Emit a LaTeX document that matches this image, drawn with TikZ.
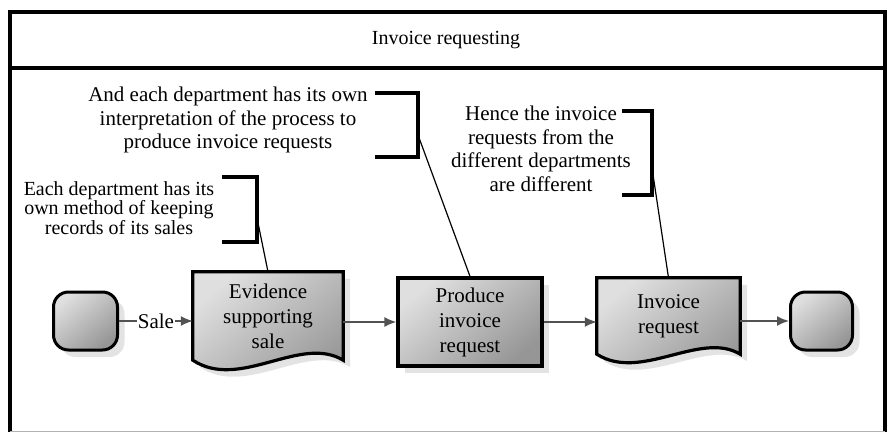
\documentclass[tikz,border=0pt]{standalone}
\usepackage{fontspec}
\setmainfont{Liberation Serif}
\usetikzlibrary{arrows.meta,shadows,backgrounds}

\begin{document}
\begin{tikzpicture}[x=1pt,y=-1pt,
    flow/.style={draw=black!68, line width=1.6pt, -{Latex[length=12pt,width=10pt]}}]
    \tikzstyle{frame line}=[line width=3.4pt]
    \tikzstyle{body text}=[font=\fontsize{21}{25}\selectfont, align=center]
    \tikzstyle{note text}=[font=\fontsize{21}{23.5}\selectfont, align=center]
    \tikzstyle{shaded}=[top color=gray!25, bottom color=gray!82, shading angle=40]
    \tikzstyle{soft shadow}=[drop shadow={shadow xshift=7pt, shadow yshift=-7pt, fill=gray!22, opacity=1}]
    \tikzstyle{terminal}=[draw, line width=3pt, rounded corners=15pt, shaded, soft shadow, minimum width=64pt, minimum height=58pt, inner sep=0]
    \tikzstyle{process}=[draw, line width=3.2pt, shaded, soft shadow, body text, inner sep=0]
    \tikzstyle{doc box}=[body text, inner sep=0]
    \tikzstyle{doc shape}=[draw, line width=3.2pt, shaded, soft shadow]
    \tikzstyle{bracket}=[line width=4pt]
    \tikzstyle{callout}=[line width=1.2pt]

    \useasboundingbox (0,0) rectangle (890,433);

    % frame and heading
    \draw[frame line] (10,432) -- (10,12) -- (885,12) -- (885,432);
    \draw[gray!60, line width=1pt] (10,431.5) -- (885,431.5);
    \draw[frame line] (10,68) -- (885,68);
    \node (title) at (446,40) [font=\fontsize{20}{24}\selectfont] {Invoice requesting};

    % process row
    \node (st) [terminal] at (85.5,321) {};
    \node (ev) [doc box, minimum width=150pt, minimum height=88pt] at (268,316) {Evidence\\supporting\\sale};
    \node (pr) [process, minimum width=144pt, minimum height=88pt] at (470,322) {Produce\\invoice\\request};
    \node (ir) [doc box, minimum width=143pt, minimum height=76pt] at (668.5,316) {Invoice\\request};
    \node (en) [terminal, minimum width=62pt] at (821.5,321) {};

    \begin{pgfonlayer}{background}
        \path[doc shape] (ev.north west) -- (ev.north east) -- (ev.south east)
            .. controls +(-43,-26) and +(47,31) .. (ev.south west) -- cycle;
        \path[doc shape] (ir.north west) -- (ir.north east) -- (ir.south east)
            .. controls +(-40,-24) and +(44,28) .. (ir.south west) -- cycle;
    \end{pgfonlayer}

    \draw[flow] (st.east) -- node[fill=white, inner sep=1pt, font=\fontsize{21}{25}\selectfont]{Sale} (st.east -| ev.west);
    \draw[flow] (ev.east |- pr) -- (pr.west);
    \draw[flow] (pr.east) -- (pr.east -| ir.west);
    \draw[flow] (ir.east |- en) -- (en.west);

    % annotations
    \node (n1) [note text, font=\fontsize{20}{19.5}\selectfont] at (119,208) {Each department has its\\own method of keeping\\records of its sales};
    \draw[bracket] (222,177) -| (257,242) -- (222,242);
    \coordinate (b1) at (257,218);
    \draw[callout] (b1) -- (ev.north);

    \node (n2) [note text] at (228,120) {And each department has its own\\interpretation of the process to\\produce invoice requests};
    \draw[bracket] (375,93) -| (418,157) -- (375,157);
    \coordinate (b2) at (418,135);
    \draw[callout] (b2) -- (pr.north);

    \node (n3) [note text] at (541,149) {Hence the invoice\\requests from the\\different departments\\are different};
    \draw[bracket] (622,111) -| (652,195) -- (622,195);
    \coordinate (b3) at (652,168);
    \draw[callout] (b3) -- (ir.north);
\end{tikzpicture}
\end{document}
